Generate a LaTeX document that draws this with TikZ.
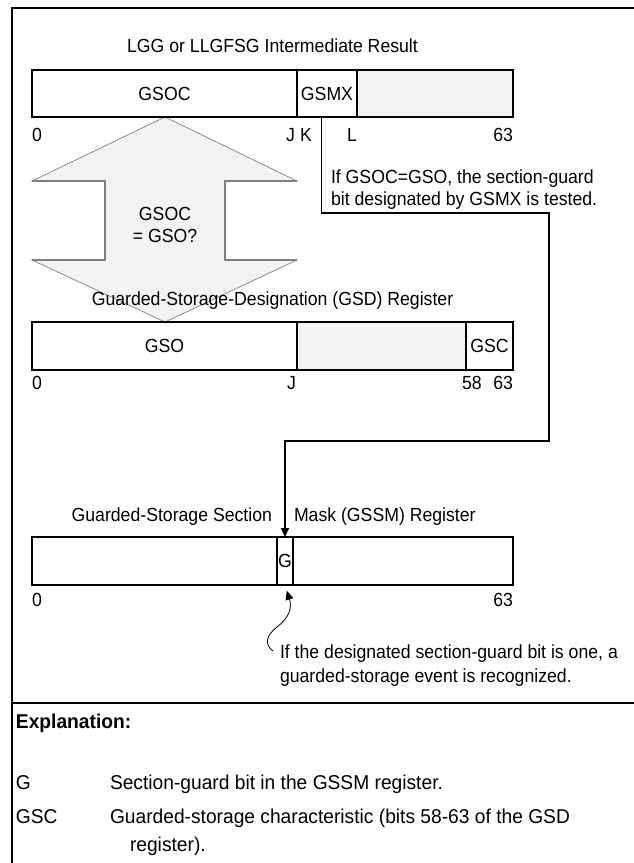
\documentclass[tikz,border=0pt]{standalone}
\usepackage{fontspec}
\setmainfont{Liberation Sans}[FakeStretch=0.93]
\newfontfamily\expfont{Liberation Sans}[FakeStretch=0.96]
\usetikzlibrary{arrows.meta}
\definecolor{shade}{HTML}{F3F3F3}
\definecolor{arrowline}{HTML}{808080}
\tikzset{
  txt/.style={inner sep=0pt, outer sep=0pt},
  exptxt/.style={txt, anchor=base west, font=\expfont\fontsize{20}{24}\selectfont},
  field/.style={draw=black, line width=1.6pt, inner sep=0pt, outer sep=0pt, minimum height=47pt, anchor=north west},
  shaded/.style={field, fill=shade},
  frame/.style={line width=2.2pt, line cap=rect},
  wire/.style={line width=1.6pt},
}
\begin{document}
\begin{tikzpicture}[x=1pt, y=-1pt, font=\fontsize{19}{22.8}\selectfont]
\useasboundingbox (0,0) rectangle (634,863);
\clip (0,0) rectangle (634,863);
% outer frame and separator
\draw[frame] (12,870) -- (12,8) -- (640,8);
\draw[frame] (12,703) -- (640,703);

% big double arrow
\filldraw[fill=shade, draw=arrowline, line width=0.7pt]
  (165,117) -- (297,181) -- (225,181) -- (225,260) -- (297,260) -- (165,322)
  -- (32,260) -- (105,260) -- (105,181) -- (32,181) -- cycle;
\draw[draw=arrowline, line width=1.2pt] (32,181) -- (105,181) -- (105,260) -- (32,260);
\draw[draw=arrowline, line width=1.2pt] (297,181) -- (225,181) -- (225,260) -- (297,260);
\node[txt, anchor=base] (q1) at (165,220.5) {GSOC};
\node[txt, anchor=base] (q2) at (165,242.5) {= GSO?};

% register 1
\node[txt, anchor=base] (t1) at (272.5,52.5) {LGG or LLGFSG Intermediate Result};
\node[field, minimum width=265pt] (gsoc) at (32,70) {GSOC};
\node[field, minimum width=60pt] (gsmx) at (297,70) {GSMX};
\node[shaded, minimum width=156pt] (r1rest) at (357,70) {};
\node[txt, anchor=base west] (l10) at (32,141.5) {0};
\node[txt, anchor=base east] (l1j) at (295,141.5) {J};
\node[txt, anchor=base west] (l1k) at (300,141.5) {K};
\node[txt, anchor=base east] (l1l) at (357,141.5) {L};
\node[txt, anchor=base east] (l163) at (513,141.5) {63};

% callout text
\node[txt, anchor=base west] (c1) at (331,183.5) {If GSOC=GSO, the section-guard};
\node[txt, anchor=base west] (c2) at (331,205.5) {bit designated by GSMX is tested.};

% register 2
\node[txt, anchor=base] (t2) at (272.5,305.5) {Guarded-Storage-Designation (GSD) Register};
\node[field, minimum width=265pt, minimum height=48pt] (gso) at (32,322) {GSO};
\node[shaded, minimum width=169pt, minimum height=48pt] (r2mid) at (297,322) {};
\node[field, minimum width=47pt, minimum height=48pt] (gsc) at (466,322) {GSC};
\node[txt, anchor=base west] (l20) at (32,389.5) {0};
\node[txt, anchor=base east] (l2j) at (296,389.5) {J};
\node[txt, anchor=base west] (l258) at (462,389.5) {58};
\node[txt, anchor=base east] (l263) at (513,389.5) {63};

% register 3
\node[txt, anchor=base east] (t3a) at (272,521.5) {Guarded-Storage Section};
\node[txt, anchor=base west] (t3b) at (294,521.5) {Mask (GSSM) Register};
\node[field, minimum width=245pt, minimum height=48pt] (r3a) at (32,537) {};
\node[field, minimum width=16pt, minimum height=48pt] (g) at (277,537) {G};
\node[field, minimum width=220pt, minimum height=48pt] (r3b) at (293,537) {};
\node[txt, anchor=base west] (l30) at (32,606.5) {0};
\node[txt, anchor=base east] (l363) at (513,606.5) {63};

% callout connector
\coordinate (k0) at (321.5,117);
\coordinate (k1) at (549,213);
\coordinate (k2) at (549,441);
\draw[wire, -{Triangle[length=9pt, width=8pt]}] (k0) |- (k1) -- (k2) -| (g.north);

% curly arrow and note
\coordinate (cs) at (273,651);
\draw[line width=0.8pt, -{Triangle[length=9pt, width=8pt]}, shorten >=6pt]
  (cs) .. controls (265,645) and (265,636) .. (277,627)
       .. controls (290,617) and (292,607) .. (g.south);
\node[txt, anchor=base west] (n1) at (280,658.5) {If the designated section-guard bit is one, a};
\node[txt, anchor=base west] (n2) at (280,682.5) {guarded-storage event is recognized.};

% explanation
\node[exptxt, font=\expfont\fontsize{20}{24}\selectfont\bfseries] (ex) at (16,728.5) {Explanation:};
\node[exptxt] (eg) at (16,789.5) {G};
\node[exptxt] (egd) at (110,789.5) {Section-guard bit in the GSSM register.};
\node[exptxt] (egsc) at (16,823.5) {GSC};
\node[exptxt] (egscd) at (110,823.5) {Guarded-storage characteristic (bits 58-63 of the GSD};
\node[exptxt] (egscd2) at (130,851.5) {register).};
\end{tikzpicture}
\end{document}
